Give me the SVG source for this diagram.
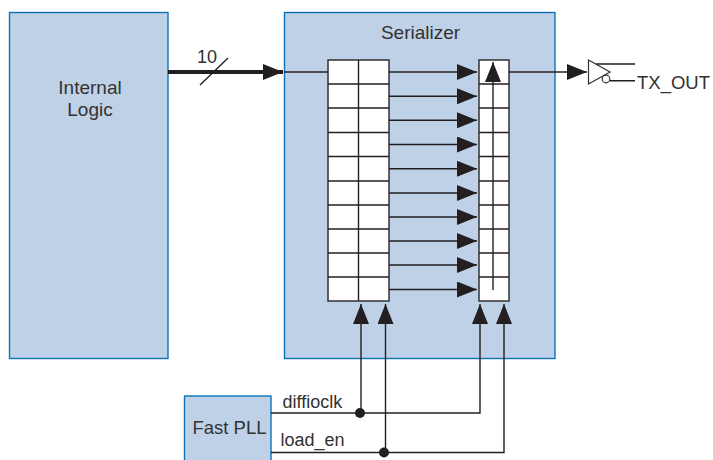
<svg xmlns="http://www.w3.org/2000/svg" width="713" height="460" viewBox="0 0 713 460">
<style>
text{font-family:"Liberation Sans",Arial,sans-serif;font-size:18.500px;fill:#333132}
.m{text-anchor:middle}
.box{fill:#bed1e7;stroke:#0a74b8;stroke-width:1.4}
.cell{fill:#fff;stroke:#333132;stroke-width:1.5}
.ln{fill:none;stroke:#231f20;stroke-width:1.4}
.dot{fill:#231f20}
</style>
<defs>
<marker id="ah" markerUnits="userSpaceOnUse" markerWidth="20" markerHeight="16" refX="20" refY="8" orient="auto"><path d="M0 0L20 8L0 16Z" fill="#231f20"/></marker>
</defs>
<rect width="713" height="460" fill="#fff"/>
<g id="internal-logic"><rect class="box" x="9.5" y="12.5" width="158.500" height="346"/><text class="m" x="90" y="94" style="font-size:19px">Internal</text><text class="m" x="90" y="116" style="font-size:19px">Logic</text></g>
<g id="serializer"><rect class="box" x="284.500" y="12.500" width="270.500" height="346"/><text class="m" x="420.500" y="39" style="font-size:19px">Serializer</text></g>
<g id="register-a"><rect class="cell" x="328" y="60" width="61" height="241"/><path class="ln" d="M358.500 60V301M328 84H389M328 108H389M328 132.500H389M328 156.500H389M328 181H389M328 205H389M328 229H389M328 253H389M328 277H389"/></g>
<g id="register-b"><rect class="cell" x="479" y="60" width="30" height="241"/><path class="ln" d="M479 84H509M479 108H509M479 132.500H509M479 156.500H509M479 181H509M479 205H509M479 229H509M479 253H509M479 277H509"/></g>
<g id="fast-pll"><rect class="box" x="184.500" y="396" width="86.500" height="66"/><text class="m" x="229.500" y="434">Fast PLL</text></g>
<g id="output-buffer"><path d="M588.500 60L610 72L588.500 84Z" fill="#fff" stroke="#333132" stroke-width="1.200"/><circle cx="606" cy="79" r="3.800" fill="#fff" stroke="#333132" stroke-width="1.200"/><path class="ln" d="M596 64H635M610 80.700H635"/></g>
<g id="connectors">
<path d="M168 72H283" fill="none" stroke="#231f20" stroke-width="4" marker-end="url(#ah)"/>
<path class="ln" d="M200 85L228 58M284 72H328"/>
<path class="ln" marker-end="url(#ah)" d="M389 72H477"/>
<path class="ln" marker-end="url(#ah)" d="M389 96.300H477"/>
<path class="ln" marker-end="url(#ah)" d="M389 120.300H477"/>
<path class="ln" marker-end="url(#ah)" d="M389 144.500H477"/>
<path class="ln" marker-end="url(#ah)" d="M389 168.700H477"/>
<path class="ln" marker-end="url(#ah)" d="M389 193H477"/>
<path class="ln" marker-end="url(#ah)" d="M389 217H477"/>
<path class="ln" marker-end="url(#ah)" d="M389 241H477"/>
<path class="ln" marker-end="url(#ah)" d="M389 265H477"/>
<path class="ln" marker-end="url(#ah)" d="M389 289.500H477"/>
<path class="ln" marker-end="url(#ah)" d="M493 290V62"/>
<path class="ln" marker-end="url(#ah)" d="M509 72H587"/>
<path class="ln" marker-end="url(#ah)" d="M361 413V304"/>
<path class="ln" marker-end="url(#ah)" d="M385.500 452.500V304"/>
<path class="ln" marker-end="url(#ah)" d="M271 413H480V304"/>
<path class="ln" marker-end="url(#ah)" d="M271 452.500H504V304"/>
<circle class="dot" cx="360" cy="413" r="5"/>
<circle class="dot" cx="384" cy="452.500" r="5"/>
</g>
<text x="197" y="63" style="font-size:18px">10</text>
<text x="282.500" y="408" style="font-size:18px">diffioclk</text>
<text x="280.500" y="446" style="font-size:18px">load_en</text>
<text x="637" y="89">TX_OUT</text>
</svg>
